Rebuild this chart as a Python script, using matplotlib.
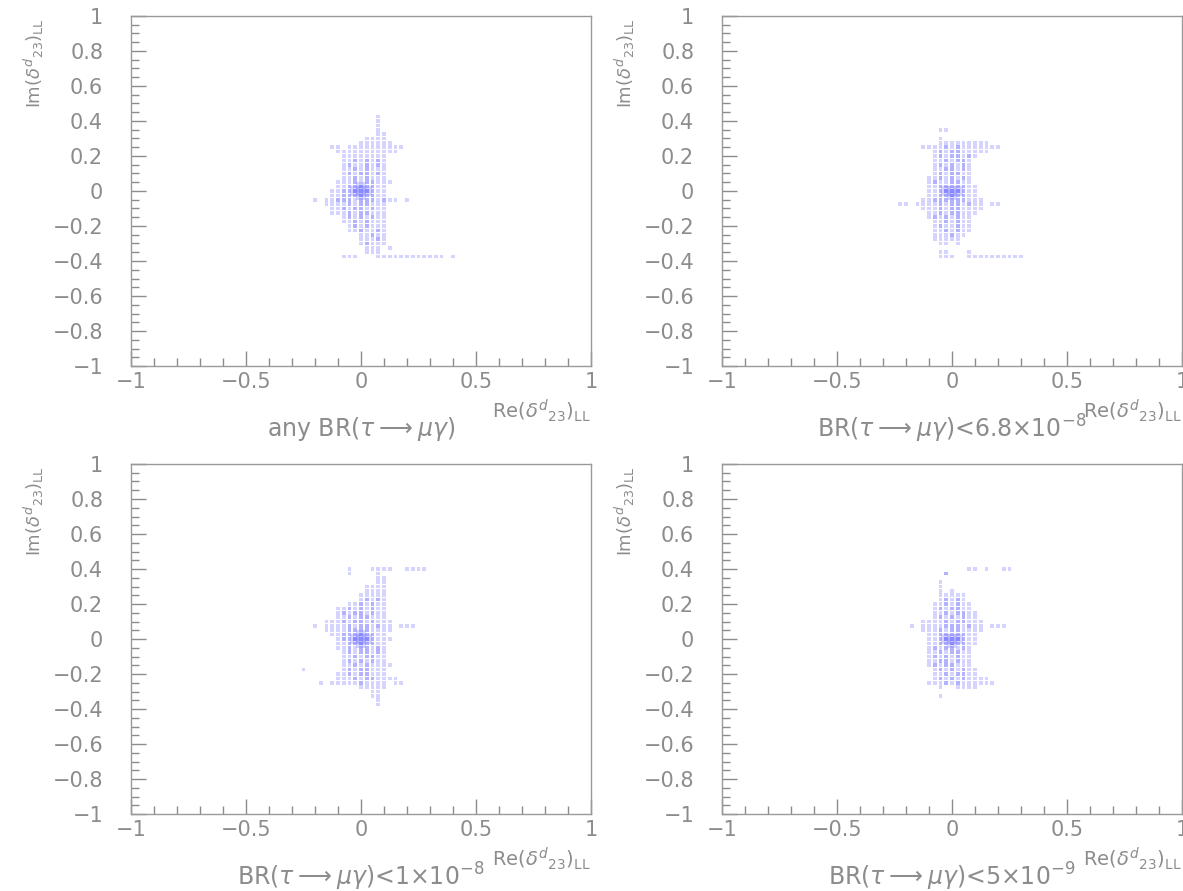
import matplotlib.pyplot as plt
import numpy as np

# bin size of the 2D histograms, first row (top) and first column of the maps
BIN = 0.025
TOP_ROW = 17
FIRST_COL = -12

# occupancy maps, one string per histogram row (top -> bottom)
# '.' empty, 'o' few entries, 'x' more entries, '#' many entries
any_br = [
    "...............o",
    "...............o",
    "...............o",
    "...............o",
    "...............oo",
    ".............oooo",
    "............oooooo",
    ".......oo.oooooooooo",
    "........ooooooooooo",
    ".........oooooooo",
    ".........ooxoxoxo",
    ".........oxooxoxo",
    ".........ooxoxooo",
    ".........oxoxxoxo",
    ".........ooxoxooo",
    "........oooxoxxooo",
    "........ooxx#xxoo",
    ".......ooxx###xoo",
    ".......ooxxx#xxoo",
    "....o.ooxxxoxxxoxoo.o",
    "......ooooxoxxooo",
    ".......ooxoxxoxoo",
    ".......oooxoxxooo",
    ".........oxoxoxoo",
    ".........ooxoxooo",
    "..........oxoxooo",
    "..........ooxooxo",
    "............ooxoo",
    "............oooxo",
    "............oxooo",
    ".............ooo.o",
    ".............ooo",
    ".........ooo...oooooooooooo.o",
]

br_68e8 = [
    "",
    "",
    "",
    "..........oo",
    "",
    "..........o",
    "..........ooooooooo",
    ".......ooooxoxooooooo",
    ".........oxoxxooooo",
    ".........oxoxxoxo",
    ".........ooxoxxo",
    ".........oxoxoxo",
    ".........ooxxoxo",
    ".........oxoxxoo",
    "........ooxoxoxo",
    "........oxooxxoo",
    "........ooxxxxxoo",
    "........oox###xoo",
    "........ooxx#xxoo",
    ".......ooxxxxxxooo",
    "...oo.ooooxoxxoxoo.oo",
    ".......oooxoxxoooo",
    "........ooxoxxooo",
    "........oxoxoxoo",
    ".........ooxoxoo",
    ".........oxooxoo",
    ".........ooxoxoo",
    ".........oooxoo",
    ".........ooooo",
    "..........oo.o",
    "",
    "..........oo...o",
    "..........ooo..oooooooooo",
]

br_1e8 = [
    "",
    "..........o...oooo..oooo",
    "..........o....o",
    "...............oo",
    "...............oo",
    ".............oooo",
    ".............oooo",
    "............ooooo",
    "............oxoxo",
    "..........ooxoxoo",
    "........ooxoxoxoo",
    "........oxoxxoxoo",
    "........ooxoxxooo",
    "......oooxoxxoxooo",
    "....o.ooooxoxxoxoo.ooo",
    "......ooooxxxxoooo",
    ".......ooxxx#xxoo",
    "........oxx###xooo",
    "........ooxx#xxoo",
    "........ooxoxxoxo",
    ".........oxoxxoxo",
    ".........ooxoxxoo",
    ".........oxoxoxoo",
    ".........ooxoxoooo",
    "..o......oxoxxooo",
    "........ooxoxxooo",
    "........oooxoxxoooo",
    ".....o.oooooxoooo.oo",
    "............ooooo",
    "..............oo",
    "..............oo",
    "...............o",
    "...............o",
]

br_5e9 = [
    "",
    "...............oo.o..oo",
    "...........x",
    "",
    "..........o",
    "..........o",
    "..........o.o",
    "..........ooooo",
    "..........oxoxo",
    ".........ooxoxoo",
    ".........oxoxxoo",
    ".........ooxoxxoo",
    ".........oxoxoxoo",
    ".......ooooxoxxooo",
    ".....o.ooooxxxoxoo.ooo",
    ".......oooxoxxoooo",
    "........ooxxxxxoo",
    "........oox###xoo",
    "........ooxx#xxoo",
    "........oxoxxoxo",
    "........ooxoxxoo",
    "........oxoxoxoo",
    "........ooxxoxoo",
    "........oxoxxooo",
    ".........oxoxoxoo",
    ".........ooxoxxoo",
    ".........oxoxoxoooo",
    "........oooxoxoooooo",
    "..........o..oooo",
    "",
    "..........o",
]

panels = [any_br, br_68e8, br_1e8, br_5e9]
captions = [
    r'any BR$(\tau\longrightarrow\mu\gamma)$',
    r'BR$(\tau\longrightarrow\mu\gamma)$<6.8$\times$10$^{-8}$',
    r'BR$(\tau\longrightarrow\mu\gamma)$<1$\times$10$^{-8}$',
    r'BR$(\tau\longrightarrow\mu\gamma)$<5$\times$10$^{-9}$',
]
weights = {'o': 0.30, 'x': 0.55, '#': 0.85}

W, H = 1183, 891
fig = plt.figure(figsize=(W / 100, H / 100), dpi=100)

# axes boxes in pixels: left, top, right, bottom
boxes = [(131, 16, 591, 366), (722, 16, 1182, 366),
         (131, 464, 591, 814), (722, 464, 1182, 814)]

grey = '#8c8c8c'
ylab = r'Im$(\delta^{d}{}_{23})_{\rm LL}$'
xlab = r'Re$(\delta^{d}{}_{23})_{\rm LL}$'


def fmt(v):
    if abs(v) < 1e-9:
        return '0'
    s = f'{abs(v):g}'
    return '\u2212' + s if v < 0 else s


for rows, cap, (l, t, r, b) in zip(panels, captions, boxes):
    ax = fig.add_axes([l / W, 1 - b / H, (r - l) / W, (b - t) / H])
    xs, ys, ws = [], [], []
    for i, s in enumerate(rows):
        for j, ch in enumerate(s):
            if ch in weights:
                xs.append((FIRST_COL + j) * BIN)
                ys.append((TOP_ROW - i) * BIN)
                ws.append(weights[ch])
    xs, ys, ws = np.array(xs), np.array(ys), np.array(ws)
    cols = np.zeros((len(ws), 4))
    cols[:, 0] = 0.45
    cols[:, 1] = 0.45
    cols[:, 2] = 1.0
    cols[:, 3] = ws
    ax.scatter(xs, ys, s=7, marker='s', c=cols, linewidths=0)
    heavy = ws > 0.8
    ax.scatter(xs[heavy], ys[heavy], s=45, marker='s', color=(0.55, 0.55, 1.0, 0.35), linewidths=0)

    ax.set_xlim(-1, 1)
    ax.set_ylim(-1, 1)
    xt = [-1, -0.5, 0, 0.5, 1]
    ax.set_xticks(xt)
    ax.set_xticklabels([fmt(v) for v in xt])
    yt = np.round(np.arange(-1, 1.01, 0.2), 1)
    ax.set_yticks(yt)
    ax.set_yticklabels([fmt(v) for v in yt])
    ax.set_xticks(np.arange(-1, 1.01, 0.1), minor=True)
    ax.set_yticks(np.arange(-1, 1.01, 0.05), minor=True)
    ax.tick_params(which='both', direction='in', colors=grey, labelcolor=grey,
                   labelsize=15, top=False, right=False)
    ax.tick_params(which='major', length=11, width=1)
    ax.tick_params(which='minor', length=6, width=1)
    ax.tick_params(axis='y', pad=20)
    ax.tick_params(axis='x', pad=4)
    for sp in ax.spines.values():
        sp.set_color('#999999')
        sp.set_linewidth(1)

    fig.text((l - 97) / W, 1 - (t + 2) / H, ylab, rotation=90, ha='center', va='top',
             color=grey, fontsize=13)
    fig.text(r / W, 1 - (b + 45) / H, xlab, ha='right', va='center', color=grey, fontsize=14)
    fig.text((l + r) / 2 / W, 1 - (b + 63) / H, cap, ha='center', va='center',
             color=grey, fontsize=17)

fig.savefig('out.png', dpi=100)
